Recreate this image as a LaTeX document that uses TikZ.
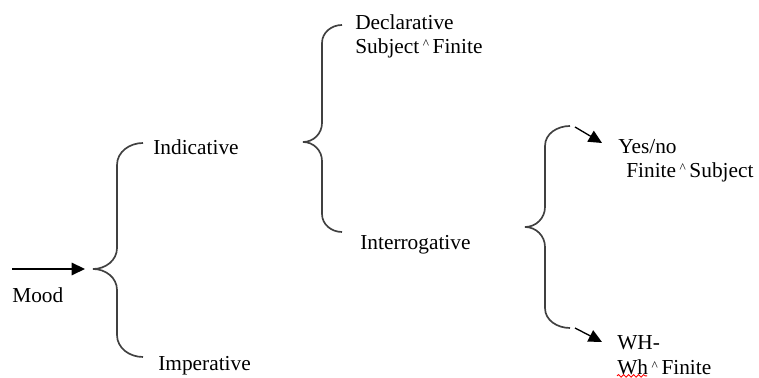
\documentclass[tikz,border=0pt]{standalone}
\usepackage{fontspec}
\setmainfont{Liberation Serif}
\usepackage{xcolor}
\usetikzlibrary{arrows.meta,decorations.pathmorphing}
\tikzset{
  lbl/.style={anchor=west, inner sep=0pt, font=\fontsize{12.8}{15}\selectfont},
  brace/.style={line width=1pt, black!75},
}
\newcommand{\joinmark}{{\raisebox{2.5pt}{\fontsize{8}{9}\selectfont\textasciicircum}}}
\begin{document}
\begin{tikzpicture}[x=0.6pt, y=0.6pt, >={Triangle[length=8pt,width=7.5pt]}]
\useasboundingbox (0,0) rectangle (759,378);
%\draw[help lines, step=50] (0,0) grid (759,378);
%==================== Mood ==================
\coordinate (moodstart) at (12,109);
\coordinate (moodend) at (85,109);
\draw [->, line width=0.8pt, black] (moodstart) -- (moodend);
\node[lbl] (mood) at (12,83) {Mood};
%==================== Brace 1 ==================
\coordinate (A) at (143,235);
\coordinate (B) at (93,109);
\coordinate (C) at (143,21);
\draw[brace] (A) to[out=180, in=90] (117,213) -- (117,130) to[out=270, in=0] (B)
  to[out=0, in=90] (117,88) -- (117,43) to[out=270, in=180] (C);
\node[lbl] (indic) at (153,231) {Indicative};
\node[lbl] (imper) at (158,12) {Imperative};
%==================== Brace 2 ==================
\coordinate (A) at (342,353);
\coordinate (B) at (303,236);
\coordinate (C) at (342,146);
\draw[brace] (A) to[out=180, in=90] (322,335) -- (322,255) to[out=270, in=0] (B)
  to[out=0, in=90] (322,217) -- (322,164) to[out=270, in=180] (C);
\node[lbl] (decl) at (355,356) {Declarative};
\node[lbl] (declsub) at (355,330) {Subject\,\joinmark\,Finite};
\node[lbl] (interr) at (360,133) {Interrogative};
%==================== Brace 3 ==================
\coordinate (A) at (570,252);
\coordinate (B) at (525,151);
\coordinate (C) at (570,50);
\draw[brace] (A) to[out=180, in=90] (545,232) -- (545,171) to[out=270, in=0] (B)
  to[out=0, in=90] (545,131) -- (545,70) to[out=270, in=180] (C);
\node[lbl] (yesno) at (618,231) {Yes/no};
\node[lbl] (yesnosub) at (626,206) {Finite\,\joinmark\,Subject};
\node[lbl] (wh) at (617,35) {WH-};
\node[lbl] (whsub) at (617,11) {Wh\,\joinmark\,Finite};
%=================== Frecce =================================
\coordinate (yesfrom) at (575,251);
\coordinate (yesto) at (602,235);
\coordinate (whfrom) at (575,50);
\coordinate (whto) at (602,36);
\draw [->, line width=0.8pt, black] (yesfrom) -- (yesto);
\draw [->, line width=0.8pt, black] (whfrom) -- (whto);
%======================= spell check =============================
\draw [red, line width=0.5pt, decorate, decoration={snake, amplitude=0.8pt, segment length=3pt}]
  (whsub.south west) ++(0,-1) -- ++(30,0);
\end{tikzpicture}
\end{document}
